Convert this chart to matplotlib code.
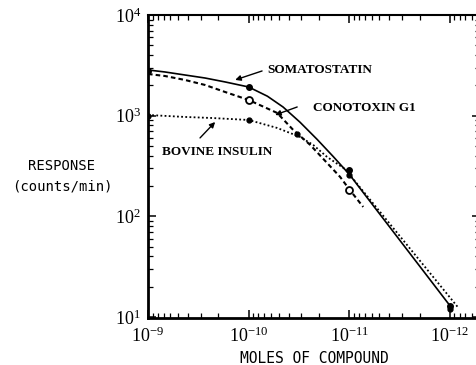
import numpy as np
import matplotlib
matplotlib.use("Agg")
import matplotlib.pyplot as plt
from matplotlib.ticker import LogLocator, FixedLocator, LogFormatterSciNotation, NullFormatter

plt.rcParams['font.family'] = ['Liberation Serif', 'DejaVu Serif']
plt.rcParams['mathtext.fontset'] = 'stix'

# curves (moles, counts/min)
soma_x = [1e-9, 6.78e-10, 4.29e-10, 2.71e-10, 1.71e-10, 1.0e-10, 6.5e-11, 4.54e-11, 3.08e-11,
          2.08e-11, 1.44e-11, 1.0e-11, 1.0e-12]
soma_y = [2845, 2716, 2535, 2366, 2162, 1928, 1560, 1218, 860, 580, 392, 262, 13.0]

cono_x = [1e-9, 6.78e-10, 4.29e-10, 2.71e-10, 1.71e-10, 1.0e-10, 5.2e-11, 3.6e-11,
          2.44e-11, 1.66e-11, 1.23e-11, 1.0e-11, 7.26e-12]
cono_y = [2594, 2477, 2263, 2018, 1718, 1432, 1064, 721, 512, 339, 246, 186, 124]

ins_x = [1e-9, 4.29e-10, 2.31e-10, 1.0e-10, 5.2e-11, 3.08e-11, 2.28e-11, 1.66e-11,
         1.1e-11, 8.2e-13]
ins_y = [1016, 971, 948, 906, 755, 615, 512, 389, 295, 12.3]

# data points
soma_px = [1e-9, 1e-10, 1e-11, 1e-12]
soma_py = [2780, 1930, 290, 13]
cono_px = [1e-10, 1e-11]
cono_py = [1432, 183]
ins_px = [1e-9, 1e-10, 3.3e-11, 1e-11, 1e-12]
ins_py = [1000, 900, 650, 255, 12]

decades = [1e-9, 1e-10, 1e-11, 1e-12]
y_decades = [1e1, 1e2, 1e3, 1e4]

fig = plt.figure(figsize=(4.77, 3.65), dpi=100)
ax = fig.add_axes([148/477, 47/365, 332/477, 303/365])

ax.plot(soma_x, soma_y, color='k', lw=1.2, ls='-')
ax.plot(cono_x, cono_y, color='k', lw=1.5, ls=(0, (2.2, 1.5)))
ax.plot(ins_x, ins_y, color='k', lw=1.3, ls=(0, (1, 1.3)))

ax.plot(soma_px, soma_py, 'o', color='k', ms=4)
ax.plot(ins_px, ins_py, 'o', color='k', ms=3.5)
ax.plot(cono_px, cono_py, 'o', mfc='white', mec='k', mew=1.3, ms=5)

ax.set_xscale('log')
ax.set_yscale('log')
ax.set_xlim(1e-9, 10**-12.3)
ax.set_ylim(10**0.99, 1e4)

ax.xaxis.set_major_locator(FixedLocator(decades))
ax.yaxis.set_major_locator(FixedLocator(y_decades))
for a in (ax.xaxis, ax.yaxis):
    a.set_minor_locator(LogLocator(base=10, subs=np.arange(2, 10), numticks=10))
    a.set_major_formatter(LogFormatterSciNotation())
    a.set_minor_formatter(NullFormatter())

ax.tick_params(which='both', direction='in', top=True, right=True, labelsize=13)
ax.tick_params(which='major', length=6, width=1.1)
ax.tick_params(which='minor', length=3.5, width=0.9)
ax.tick_params(axis='x', pad=6)
ax.tick_params(axis='y', pad=5)

ax.spines['right'].set_visible(False)
ax.spines['left'].set_linewidth(2.0)
ax.spines['bottom'].set_linewidth(2.0)
ax.spines['top'].set_linewidth(1.5)

ax.set_xlabel('MOLES OF COMPOUND', family='DejaVu Sans Mono', fontsize=10.5, labelpad=4)
fig.text(62/477, 1 - 176/365, 'RESPONSE\n(counts/min)', family='DejaVu Sans Mono',
         fontsize=10, ha='center', va='center', linespacing=1.6)

lab = dict(fontsize=9.5, fontweight='bold', va='center', ha='left')
arr = dict(arrowstyle='-|>', color='k', lw=1.0, mutation_scale=8, shrinkA=0, shrinkB=0)

ax.text(6.55e-11, 2845, 'SOMATOSTATIN', **lab)
ax.annotate('', xy=(1.36e-10, 2265), xytext=(7.35e-11, 2780), arrowprops=arr)

ax.text(2.28e-11, 1190, 'CONOTOXIN G1', **lab)
ax.annotate('', xy=(5.45e-11, 1016), xytext=(3.29e-11, 1220), arrowprops=arr)

ax.text(7.26e-10, 437, 'BOVINE INSULIN', **lab)
ax.annotate('', xy=(2.15e-10, 865), xytext=(3.04e-10, 601), arrowprops=arr)

fig.savefig('out.png', dpi=100)
